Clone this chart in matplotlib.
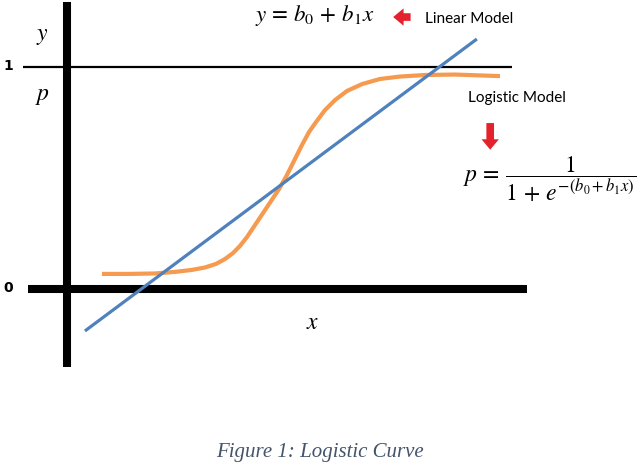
import numpy as np
import matplotlib
matplotlib.use("Agg")
import matplotlib.pyplot as plt

# Linear model: two end points of the straight line
linear_x = [0.39, 8.91]
linear_y = [-0.189, 1.126]

# Logistic model: points
logistic_x = [0.761, 1.370, 1.913, 2.348, 2.717, 3.000, 3.239, 3.435, 3.609, 3.761,
              3.913, 4.087, 4.261, 4.435, 4.609, 4.783, 4.957, 5.109, 5.261, 5.413,
              5.609, 5.826, 6.087, 6.413, 6.804, 7.239, 7.783, 8.435, 9.413]
logistic_y = [0.068, 0.068, 0.070, 0.077, 0.086, 0.097, 0.113, 0.135, 0.162, 0.194,
              0.234, 0.288, 0.342, 0.396, 0.450, 0.514, 0.586, 0.649, 0.707, 0.752,
              0.806, 0.851, 0.892, 0.923, 0.946, 0.957, 0.964, 0.966, 0.959]

level_labels = ["0", "1"]
level_values = [0, 1]

BLUE = "#4f81bd"
ORANGE = "#f59a4e"
RED = "#e3222b"

plt.rcParams["mathtext.fontset"] = "stix"

fig = plt.figure(figsize=(6.4, 4.64), dpi=100)
ax = fig.add_axes([0, 0, 1, 1])
ax.set_xlim(-67 / 46, 573 / 46)
ax.set_ylim(-174 / 222, 290 / 222)
ax.axis("off")

# axes of the sketch
ax.plot([-0.85, 10.0], [0, 0], color="black", lw=5.8, solid_capstyle="butt", zorder=1)
ax.plot([0, 0], [-0.352, 1.293], color="black", lw=5.8, solid_capstyle="butt", zorder=1)
ax.plot([-0.96, 9.67], [1, 1], color="black", lw=1.6, solid_capstyle="butt", zorder=1)

# curves
ax.plot(logistic_x, logistic_y, color=ORANGE, lw=3.0, solid_capstyle="butt",
        solid_joinstyle="round", zorder=2)
ax.plot(linear_x, linear_y, color=BLUE, lw=2.3, solid_capstyle="butt", zorder=3)

# level labels
for lab, val in zip(level_labels, level_values):
    ax.text(-1.28, val + 0.01, lab, ha="center", va="center", fontsize=10,
            fontweight="bold", family="DejaVu Sans")

ax.text(-0.54, 1.149, r"$y$", ha="center", va="center", fontsize=17)
ax.text(-0.54, 0.878, r"$p$", ha="center", va="center", fontsize=17)
ax.text(5.35, -0.144, r"$x$", ha="center", va="center", fontsize=17)

# linear model label
ax.text(5.39, 1.235, r"$y\,=\,b_0\,+\,b_1 x$", ha="center", va="center", fontsize=16.5)
ax.annotate("", xy=(7.03, 1.225), xytext=(7.53, 1.225),
            arrowprops=dict(arrowstyle="simple,head_length=0.75,head_width=1.25,tail_width=0.55",
                            color=RED, lw=0, mutation_scale=10))
ax.text(7.78, 1.222, "Linear Model", ha="left", va="center", fontsize=11,
        family=["Lato", "DejaVu Sans"])

# logistic model label
ax.text(8.72, 0.866, "Logistic Model", ha="left", va="center", fontsize=11,
        family=["Lato", "DejaVu Sans"])
ax.annotate("", xy=(9.2, 0.615), xytext=(9.2, 0.76),
            arrowprops=dict(arrowstyle="simple,head_length=0.75,head_width=1.25,tail_width=0.55",
                            color=RED, lw=0, mutation_scale=10))
ax.text(10.49, 0.50, r"$p\,=\,\dfrac{1}{1\,+\,e^{-(b_0 + b_1 x)}}$", ha="center", va="center",
        fontsize=17)

# caption
ax.text(5.5, -0.73, "Figure 1: Logistic Curve", ha="center", va="center", fontsize=15,
        style="italic", family="Liberation Serif", color="#44546a")

fig.savefig("out.png", dpi=100)
